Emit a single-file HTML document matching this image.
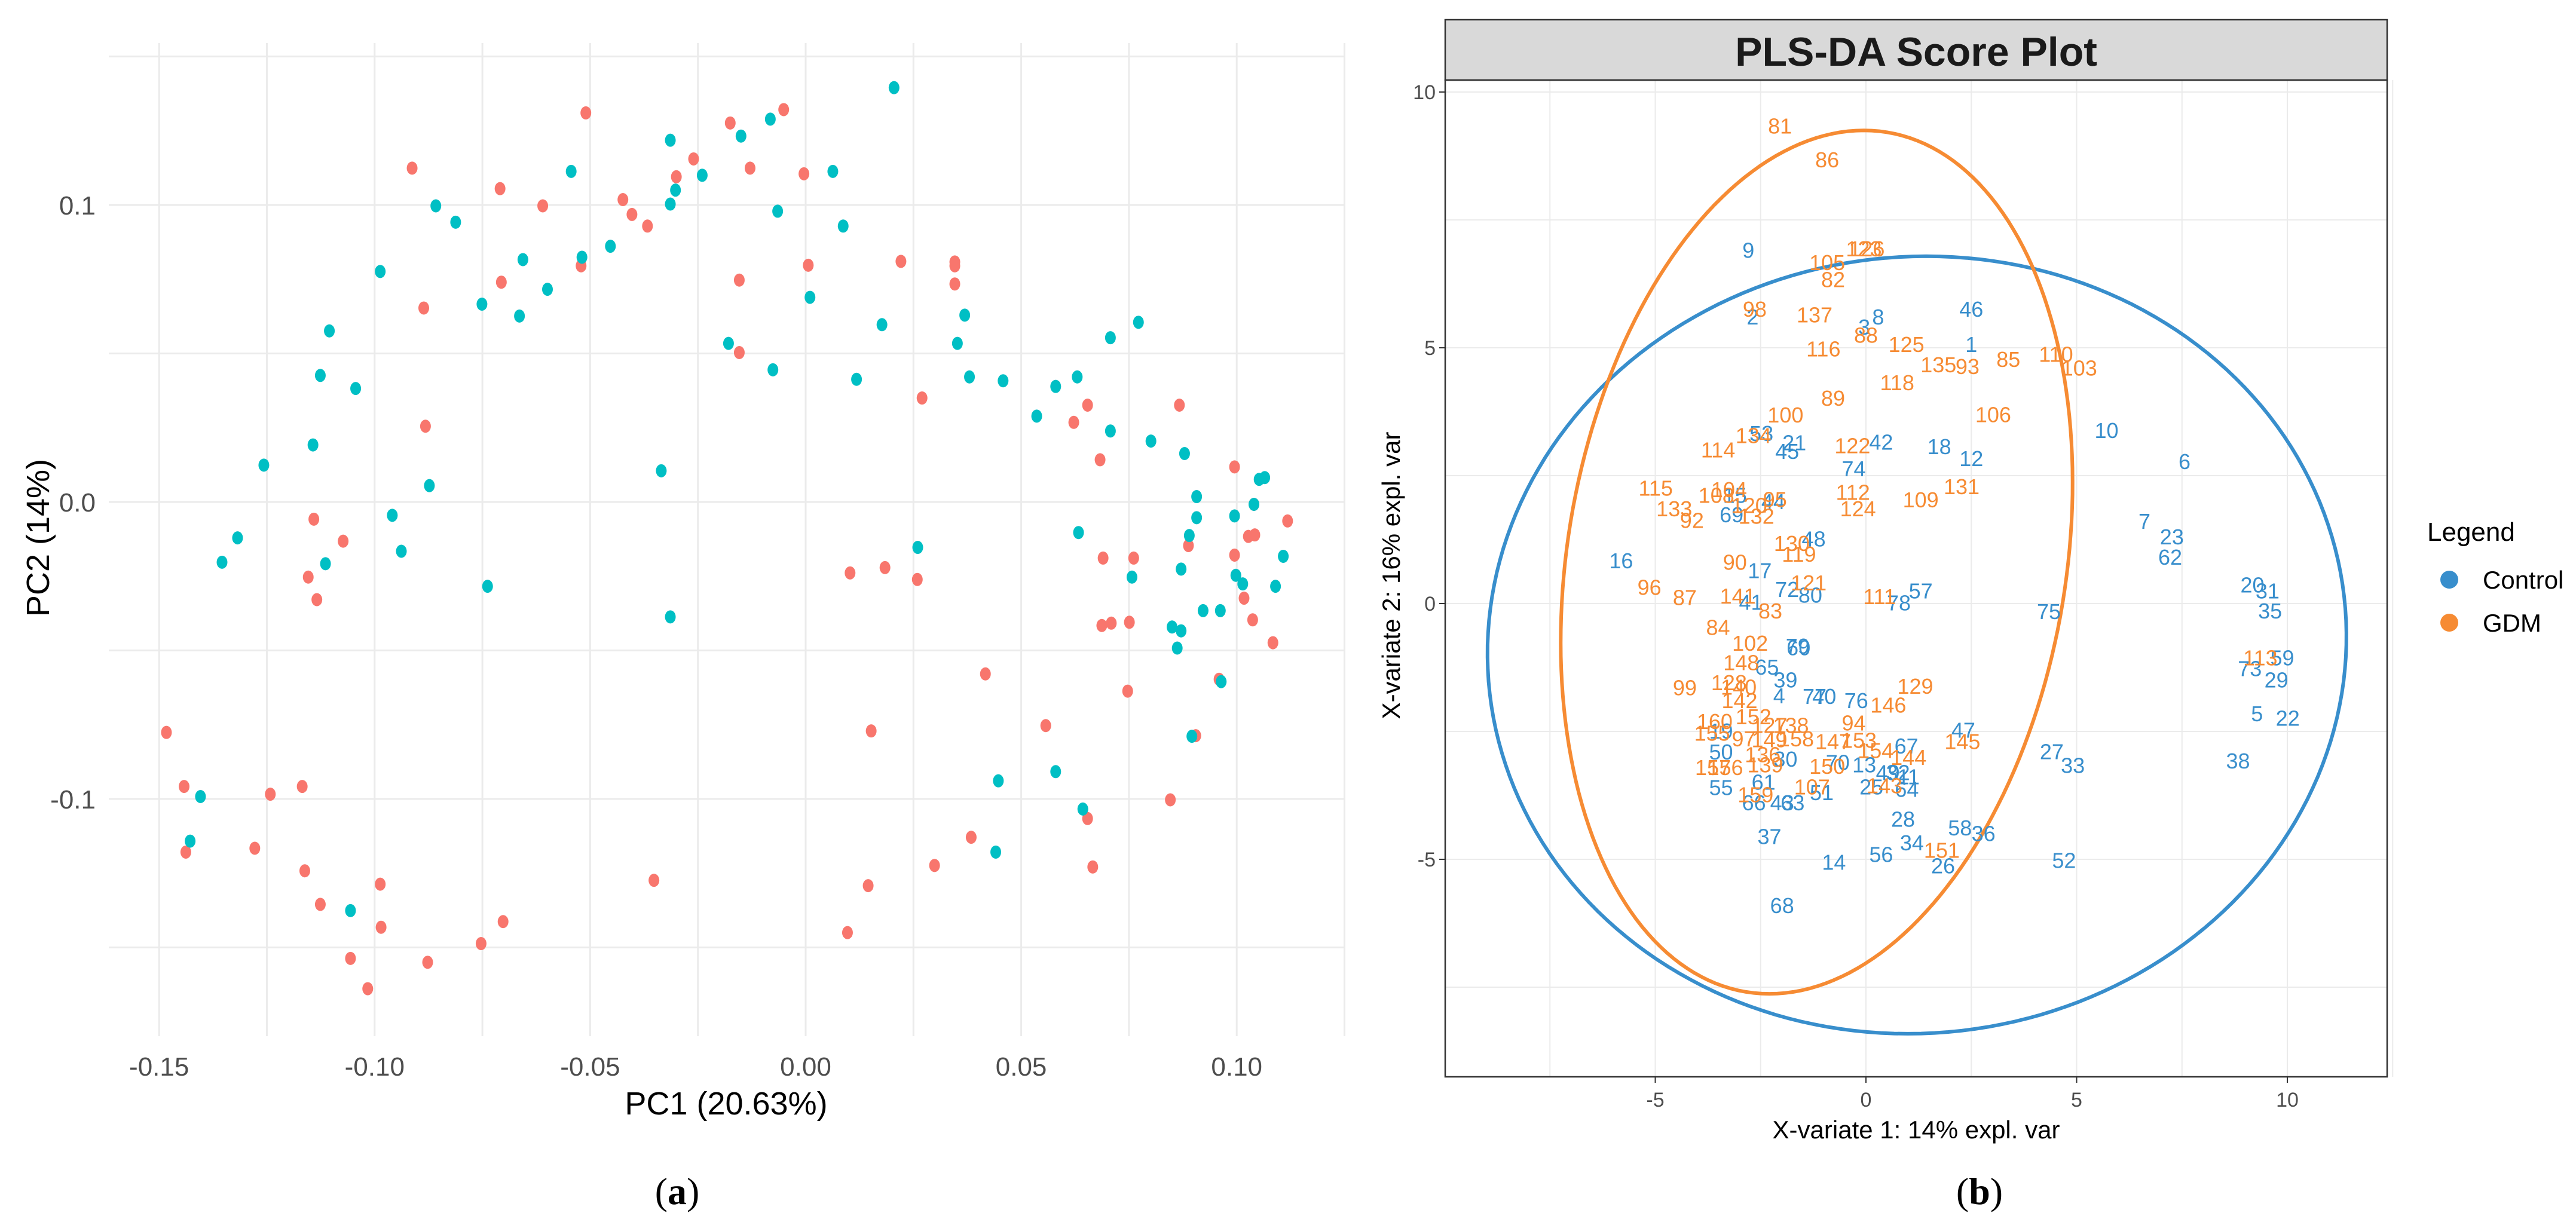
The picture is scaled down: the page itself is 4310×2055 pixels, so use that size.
<!DOCTYPE html>
<html><head><meta charset="utf-8"><style>
html,body{margin:0;padding:0;background:#fff;}
svg{display:block;}
</style></head><body>
<svg id="fig" xmlns="http://www.w3.org/2000/svg" width="4310" height="2055" viewBox="0 0 4310 2055">
<rect x="0" y="0" width="4310" height="2055" fill="#fff"/>
<g id="pca"></g>
<g id="pls"></g>
<text x="1133" y="2015" font-family="Liberation Serif, serif" font-size="64" text-anchor="middle">(<tspan font-weight="bold">a</tspan>)</text>
<text x="3312" y="2015" font-family="Liberation Serif, serif" font-size="64" text-anchor="middle">(<tspan font-weight="bold">b</tspan>)</text>
</svg>
<script>
// ---------- PCA data ----------
const pcaXTicks = [-0.15, -0.10, -0.05, 0.00, 0.05, 0.10];
const pcaXTickLabels = ["-0.15", "-0.10", "-0.05", "0.00", "0.05", "0.10"];
const pcaYTicks = [0.1, 0.0, -0.1];
const pcaYTickLabels = ["0.1", "0.0", "-0.1"];
const pcaRedX = [-0.051,-0.0913,-0.0709,-0.061,-0.0424,-0.0403,-0.0367,-0.030,-0.026,-0.0175,-0.0129,-0.0051,-0.0004,-0.0521,-0.0706,-0.0886,-0.0154,0.0006,0.0221,0.0346,0.0346,0.0346,-0.0154,0.027,-0.0882,0.0654,0.0622,0.0683,0.0867,0.0995,-0.1141,-0.1073,-0.1154,-0.1134,0.0103,0.0184,0.0259,0.069,0.0761,0.0687,0.0709,0.0751,0.0747,0.0417,0.0557,0.0152,0.0846,0.0905,0.0959,0.0995,0.1017,0.1037,0.1084,0.1027,0.1042,0.0888,0.104,0.1118,0.0654,0.0666,0.0384,0.0299,0.0145,0.0097,-0.0352,-0.0702,-0.0753,-0.0877,-0.0985,-0.0987,-0.1056,-0.1016,-0.1126,-0.1162,-0.1168,-0.1242,-0.1278,-0.1438,-0.1442,-0.1483];
const pcaRedY = [0.131,0.1124,0.1055,0.0997,0.1018,0.0968,0.0929,0.1095,0.1155,0.1276,0.1124,0.1321,0.1105,0.0795,0.074,0.0653,0.0747,0.0797,0.081,0.0808,0.0795,0.0734,0.0503,0.035,0.0255,0.0326,0.0268,0.0142,0.0326,0.0118,-0.0058,-0.0132,-0.0253,-0.0329,-0.0239,-0.0221,-0.0261,-0.0189,-0.0189,-0.0416,-0.0408,-0.0405,-0.0637,-0.0579,-0.0753,-0.0771,-0.1003,-0.0787,-0.0597,-0.0179,-0.0324,-0.0397,-0.0474,-0.0116,-0.0111,-0.0147,-0.0008,-0.0064,-0.1066,-0.1229,-0.1129,-0.1224,-0.1292,-0.145,-0.1274,-0.1413,-0.1487,-0.155,-0.1432,-0.1287,-0.1537,-0.1639,-0.1355,-0.1242,-0.0958,-0.0984,-0.1166,-0.1179,-0.0958,-0.0776];
const pcaTealX = [0.0205,-0.0082,-0.015,-0.0314,-0.024,-0.0302,-0.0314,-0.0065,0.0063,0.0087,-0.0544,-0.0858,-0.0812,-0.0519,-0.0453,-0.0656,-0.0599,-0.0664,-0.0751,-0.0987,-0.1105,-0.1126,-0.1044,-0.1143,-0.1257,-0.1318,-0.1354,-0.1114,-0.0959,-0.0938,-0.0873,-0.0738,-0.0335,-0.0314,-0.0179,-0.0076,0.001,0.0118,0.0177,0.0352,0.0369,0.038,0.0458,0.0536,0.058,0.063,0.0707,0.0772,0.0707,0.0801,0.0879,0.0907,0.0907,0.089,0.0871,0.0633,0.0757,0.085,0.0871,0.0862,0.0922,0.0962,0.0964,0.0896,0.0995,0.0998,0.1014,0.104,0.1052,0.1065,0.1108,0.109,0.026,0.0447,0.058,0.0643,0.0441,-0.1056,-0.1404,-0.1428];
const pcaTealY = [0.1395,0.1289,0.1232,0.1218,0.11,0.105,0.1003,0.0979,0.1113,0.0929,0.1113,0.0997,0.0942,0.0824,0.0861,0.0816,0.0716,0.0626,0.0666,0.0776,0.0576,0.0426,0.0382,0.0192,0.0124,-0.0121,-0.0203,-0.0208,-0.0045,-0.0166,0.0055,-0.0284,0.0105,-0.0387,0.0534,0.0445,0.0689,0.0413,0.0597,0.0534,0.0629,0.0421,0.0408,0.0289,0.0389,0.0421,0.0553,0.0605,0.0239,0.0205,0.0163,0.0018,-0.0053,-0.0113,-0.0226,-0.0103,-0.0253,-0.0421,-0.0434,-0.0492,-0.0366,-0.0366,-0.0605,-0.0789,-0.0047,-0.0247,-0.0276,-0.0008,0.0076,0.0082,-0.0183,-0.0284,-0.0153,-0.0939,-0.0908,-0.1034,-0.1179,-0.1376,-0.0992,-0.1142];

// ---------- PLS-DA data ----------
const plsXTicks = [-5, 0, 5, 10];
const plsYTicks = [10, 5, 0, -5];
const gdmIds = ["81","86","126","123","105","82","98","137","88","116","125","135","93","85","110","103","118","89","106","100","134","114","122","115","104","108","120","95","112","131","109","133","92","132","124","130","119","90","96","87","141","121","83","111","84","102","148","99","128","140","142","146","129","113","160","152","127","138","155","97","149","158","94","147","153","154","145","136","139","157","156","150","144","159","107","143","151"];
const gdmX = [-2.04,-0.92,0.02,-0.05,-0.92,-0.78,-2.64,-1.22,0.0,-1.01,0.96,1.72,2.41,3.38,4.51,5.06,0.74,-0.78,3.02,-1.91,-2.67,-3.51,-0.32,-4.99,-3.25,-3.55,-2.77,-2.16,-0.31,2.27,1.30,-4.55,-4.13,-2.60,-0.19,-1.76,-1.59,-3.11,-5.14,-4.30,-3.04,-1.36,-2.27,0.32,-3.51,-2.75,-2.96,-4.30,-3.25,-3.02,-3.00,0.53,1.17,9.36,-3.59,-2.67,-2.29,-1.78,-3.65,-2.90,-2.29,-1.66,-0.29,-0.78,-0.17,0.23,2.29,-2.45,-2.39,-3.63,-3.34,-0.92,1.01,-2.62,-1.28,0.44,1.80];
const gdmY = [9.34,8.68,6.94,6.94,6.67,6.34,5.76,5.65,5.25,4.98,5.07,4.67,4.64,4.78,4.88,4.61,4.32,4.02,3.70,3.69,3.29,3.01,3.09,2.26,2.23,2.12,1.92,2.04,2.18,2.29,2.03,1.86,1.63,1.71,1.86,1.18,0.97,0.81,0.32,0.12,0.15,0.41,-0.14,0.14,-0.46,-0.77,-1.15,-1.64,-1.54,-1.63,-1.89,-1.98,-1.61,-1.06,-2.30,-2.21,-2.38,-2.38,-2.53,-2.64,-2.66,-2.64,-2.33,-2.69,-2.67,-2.87,-2.69,-2.95,-3.15,-3.20,-3.20,-3.18,-3.00,-3.73,-3.58,-3.56,-4.82];
const ctrlIds = ["9","2","3","8","46","1","10","53","21","45","42","18","12","6","74","15","44","69","7","23","62","48","16","17","41","72","80","78","57","75","20","31","35","79","60","65","39","4","77","40","76","59","73","29","5","22","19","67","47","50","30","70","13","49","32","11","27","33","38","61","55","51","25","64","66","43","63","28","58","36","37","34","14","56","26","52","68"];
const ctrlX = [-2.79,-2.69,-0.04,0.29,2.50,2.50,5.71,-2.48,-1.70,-1.87,0.36,1.74,2.50,7.56,-0.29,-3.11,-2.20,-3.19,6.61,7.26,7.22,-1.24,-5.81,-2.52,-2.73,-1.87,-1.32,0.78,1.30,4.34,9.17,9.53,9.59,-1.62,-1.60,-2.35,-1.91,-2.06,-1.22,-0.99,-0.23,9.88,9.11,9.74,9.28,10.01,-3.44,0.96,2.31,-3.44,-1.91,-0.67,-0.04,0.52,0.76,1.01,4.41,4.91,8.83,-2.43,-3.44,-1.05,0.13,0.97,-2.66,-1.99,-1.74,0.88,2.23,2.79,-2.29,1.09,-0.76,0.36,1.83,4.70,-1.99];
const ctrlY = [6.91,5.61,5.41,5.61,5.76,5.07,3.39,3.33,3.15,2.98,3.16,3.07,2.84,2.78,2.64,2.12,2.00,1.74,1.61,1.31,0.91,1.27,0.84,0.65,0.03,0.28,0.17,0.02,0.25,-0.15,0.37,0.25,-0.14,-0.83,-0.86,-1.24,-1.49,-1.80,-1.81,-1.81,-1.89,-1.06,-1.27,-1.49,-2.15,-2.24,-2.49,-2.78,-2.47,-2.90,-3.04,-3.10,-3.15,-3.30,-3.30,-3.38,-2.89,-3.16,-3.07,-3.49,-3.59,-3.69,-3.58,-3.63,-3.89,-3.89,-3.89,-4.21,-4.38,-4.49,-4.55,-4.67,-5.05,-4.90,-5.12,-5.02,-5.90];
// confidence ellipses: center, and parametric coefficients
const gdmEllipseCenter = [-1.17, 0.81];
const gdmEllipseCoef = [1.12, 5.97, 8.44, 0];   // Ax, Bx, Ay, By
const ctrlEllipseCenter = [1.21, -0.81];
const ctrlEllipseCoef = [0.22, 10.19, 7.6, 0];

const NS = "http://www.w3.org/2000/svg";
function mk(parent, tag, attrs, text) {
  const e = document.createElementNS(NS, tag);
  for (const k in attrs) e.setAttribute(k, attrs[k]);
  if (text !== undefined) e.textContent = text;
  parent.appendChild(e);
  return e;
}

// ===== PCA panel =====
(function () {
  const g = document.getElementById('pca');
  const L = 182, R = 2248, T = 72, B = 1734;
  const sx = v => 1348 + v * 7212;
  const sy = v => 840 - v * 4970;
  // gridlines
  for (let v = -0.15; v <= 0.126; v += 0.025) {
    const x = sx(v);
    const ln = mk(g, 'line', {x1: x, x2: x, y1: T, y2: B, stroke: '#EBEBEB', 'stroke-width': 3});
    
    
  }
  for (let v = -0.15; v <= 0.151; v += 0.05) {
    const y = sy(v);
    const ln = mk(g, 'line', {x1: L, x2: R, y1: y, y2: y, stroke: '#EBEBEB', 'stroke-width': 3});
    
    
  }
  pcaXTicks.forEach((v, i) => {
    const t = mk(g, 'text', {x: sx(v), y: 1800, 'font-family': 'Liberation Sans, sans-serif', 'font-size': 44, fill: '#4D4D4D', 'text-anchor': 'middle'}, pcaXTickLabels[i]);
    
    
  });
  pcaYTicks.forEach((v, i) => {
    const t = mk(g, 'text', {x: 160, y: sy(v) + 16, 'font-family': 'Liberation Sans, sans-serif', 'font-size': 44, fill: '#4D4D4D', 'text-anchor': 'end'}, pcaYTickLabels[i]);
    
    
  });
  const xt = mk(g, 'text', {x: 1215, y: 1865, 'font-family': 'Liberation Sans, sans-serif', 'font-size': 54, fill: '#000', 'text-anchor': 'middle'}, 'PC1 (20.63%)');
  
  
  const yt = mk(g, 'text', {x: 0, y: 0, transform: 'translate(82,900) rotate(-90)', 'font-family': 'Liberation Sans, sans-serif', 'font-size': 54, fill: '#000', 'text-anchor': 'middle'}, 'PC2 (14%)');
  
  
  pcaRedX.forEach((v, i) => {
    const c = mk(g, 'ellipse', {cx: sx(v), cy: sy(pcaRedY[i]), rx: 9, ry: 11, fill: '#F8766D'});
    
    
  });
  pcaTealX.forEach((v, i) => {
    const c = mk(g, 'ellipse', {cx: sx(v), cy: sy(pcaTealY[i]), rx: 9, ry: 11, fill: '#00BFC4'});
    
    
  });
})();

// ===== PLS-DA panel =====
(function () {
  const g = document.getElementById('pls');
  const L = 2418, R = 3994, T = 134, B = 1802, ST = 33;
  const sx = v => 3122 + v * 70.5;
  const sy = v => 1010 - v * 85.6;
  for (let v = -7.5; v <= 12.5; v += 2.5) {
    const ln = mk(g, 'line', {x1: sx(v), x2: sx(v), y1: T, y2: B, stroke: '#EBEBEB', 'stroke-width': 2});
    
    
  }
  for (let v = -7.5; v <= 10; v += 2.5) {
    const ln = mk(g, 'line', {x1: L, x2: R, y1: sy(v), y2: sy(v), stroke: '#EBEBEB', 'stroke-width': 2});
    
    
  }
  const strip = mk(g, 'rect', {x: L, y: ST, width: R - L, height: T - ST, fill: '#D9D9D9', stroke: '#333', 'stroke-width': 2.5});
  
  
  const title = mk(g, 'text', {x: (L + R) / 2, y: 110, 'font-family': 'Liberation Sans, sans-serif', 'font-size': 68, 'font-weight': 'bold', fill: '#1A1A1A', 'text-anchor': 'middle'}, 'PLS-DA Score Plot');
  
  
  // ellipses
  function ell(center, coef, color, name) {
    let d = '';
    for (let k = 0; k <= 200; k++) {
      const t = k / 200 * 2 * Math.PI;
      const x = center[0] + coef[0] * Math.cos(t) + coef[1] * Math.sin(t);
      const y = center[1] + coef[2] * Math.cos(t) + coef[3] * Math.sin(t);
      d += (k ? 'L' : 'M') + sx(x).toFixed(1) + ',' + sy(y).toFixed(1);
    }
    const p = mk(g, 'path', {d: d + 'Z', fill: 'none', stroke: color, 'stroke-width': 6});
    
    
  }
  ell(ctrlEllipseCenter, ctrlEllipseCoef, '#388ECC', 'control-ellipse');
  ell(gdmEllipseCenter, gdmEllipseCoef, '#F68B33', 'gdm-ellipse');
  ctrlIds.forEach((s, i) => {
    const t = mk(g, 'text', {x: sx(ctrlX[i]), y: sy(ctrlY[i]) + 13, 'font-family': 'Liberation Sans, sans-serif', 'font-size': 36, fill: '#388ECC', 'text-anchor': 'middle'}, s);
    
    
  });
  gdmIds.forEach((s, i) => {
    const t = mk(g, 'text', {x: sx(gdmX[i]), y: sy(gdmY[i]) + 13, 'font-family': 'Liberation Sans, sans-serif', 'font-size': 36, fill: '#F68B33', 'text-anchor': 'middle'}, s);
    
    
  });
  const box = mk(g, 'rect', {x: L, y: T, width: R - L, height: B - T, fill: 'none', stroke: '#333', 'stroke-width': 2.5});
  
  
  plsXTicks.forEach(v => {
    const tk = mk(g, 'line', {x1: sx(v), x2: sx(v), y1: B, y2: B + 10, stroke: '#333', 'stroke-width': 2});
    
    
    const t = mk(g, 'text', {x: sx(v), y: 1852, 'font-family': 'Liberation Sans, sans-serif', 'font-size': 34, fill: '#4D4D4D', 'text-anchor': 'middle'}, String(v));
    
    
  });
  plsYTicks.forEach(v => {
    const tk = mk(g, 'line', {x1: L - 10, x2: L, y1: sy(v), y2: sy(v), stroke: '#333', 'stroke-width': 2});
    
    
    const t = mk(g, 'text', {x: L - 16, y: sy(v) + 12, 'font-family': 'Liberation Sans, sans-serif', 'font-size': 34, fill: '#4D4D4D', 'text-anchor': 'end'}, String(v));
    
    
  });
  const xt = mk(g, 'text', {x: (L + R) / 2, y: 1905, 'font-family': 'Liberation Sans, sans-serif', 'font-size': 42, fill: '#000', 'text-anchor': 'middle'}, 'X-variate 1: 14% expl. var');
  
  
  const yt = mk(g, 'text', {x: 0, y: 0, transform: 'translate(2342,963) rotate(-90)', 'font-family': 'Liberation Sans, sans-serif', 'font-size': 42, fill: '#000', 'text-anchor': 'middle'}, 'X-variate 2: 16% expl. var');
  
  
  // legend
  const lg = mk(g, 'g', {});
  
  
  const lt = mk(lg, 'text', {x: 4061, y: 905, 'font-family': 'Liberation Sans, sans-serif', 'font-size': 44, fill: '#000'}, 'Legend');
  
  
  const c1 = mk(lg, 'circle', {cx: 4098, cy: 970, r: 15, fill: '#388ECC'});
  
  
  const t1 = mk(lg, 'text', {x: 4154, y: 985, 'font-family': 'Liberation Sans, sans-serif', 'font-size': 42, fill: '#000'}, 'Control');
  
  
  const c2 = mk(lg, 'circle', {cx: 4098, cy: 1042, r: 15, fill: '#F68B33'});
  
  
  const t2 = mk(lg, 'text', {x: 4154, y: 1057, 'font-family': 'Liberation Sans, sans-serif', 'font-size': 42, fill: '#000'}, 'GDM');
  
  
})();
</script>
</body></html>
